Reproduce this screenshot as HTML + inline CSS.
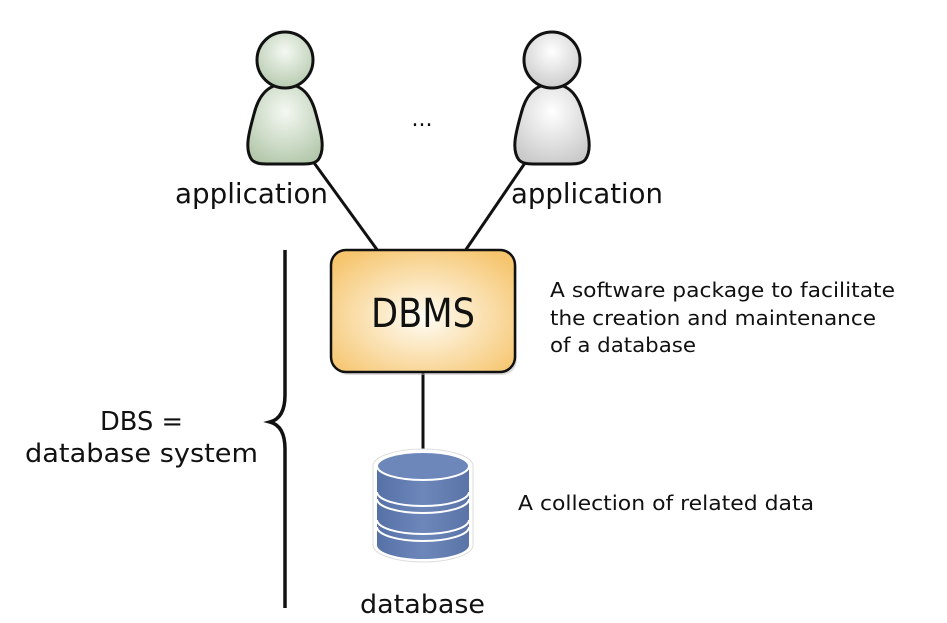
<!DOCTYPE html>
<html><head><meta charset="utf-8"><style>
html,body{margin:0;padding:0;background:#fff;}
svg{display:block;}
text{font-family:"DejaVu Sans","Liberation Sans",sans-serif;fill:#111;}
</style></head><body>
<svg width="947" height="623" viewBox="0 0 947 623" xmlns="http://www.w3.org/2000/svg">
<defs>
<radialGradient id="gg" cx="0.5" cy="0.35" r="0.7"><stop offset="0" stop-color="#f4f8f2"/><stop offset="1" stop-color="#b3c8ab"/></radialGradient>
<radialGradient id="wg" cx="0.5" cy="0.35" r="0.7"><stop offset="0" stop-color="#ffffff"/><stop offset="1" stop-color="#c9c9c9"/></radialGradient>
<radialGradient id="og" cx="0.5" cy="0.55" r="0.65"><stop offset="0" stop-color="#fffdf6"/><stop offset="1" stop-color="#f6c56e"/></radialGradient>
<linearGradient id="bg" x1="0" x2="1"><stop offset="0" stop-color="#5671a6"/><stop offset="0.5" stop-color="#6d87bb"/><stop offset="1" stop-color="#5a74a8"/></linearGradient>
</defs>
<line x1="312" y1="160" x2="378" y2="251" stroke="#111" stroke-width="3"/>
<line x1="527" y1="160" x2="465" y2="251" stroke="#111" stroke-width="3"/>
<line x1="423" y1="372" x2="423" y2="452" stroke="#111" stroke-width="3"/>
<!-- left person -->
<path d="M285 84 C266 84 258 98 254 114 C249 132 244 150 252 160 C256 164 262 164 270 164 L300 164 C308 164 314 164 318 160 C326 150 321 132 316 114 C312 98 304 84 285 84 Z" fill="url(#gg)" stroke="#111" stroke-width="3"/>
<circle cx="285" cy="60" r="28" fill="url(#gg)" stroke="#111" stroke-width="3"/>
<!-- right person -->
<path d="M552 84 C533 84 525 98 521 114 C516 132 511 150 519 160 C523 164 529 164 537 164 L567 164 C575 164 581 164 585 160 C593 150 588 132 583 114 C579 98 571 84 552 84 Z" fill="url(#wg)" stroke="#111" stroke-width="3"/>
<circle cx="552" cy="60" r="28" fill="url(#wg)" stroke="#111" stroke-width="3"/>
<text x="422" y="126" font-size="22" text-anchor="middle">...</text>
<text x="175" y="203" font-size="28" textLength="153" lengthAdjust="spacingAndGlyphs">application</text>
<text x="511" y="203" font-size="28" textLength="152" lengthAdjust="spacingAndGlyphs">application</text>
<rect x="333" y="253" width="184" height="122" rx="15" fill="#bbb" opacity="0.5"/>
<rect x="331" y="250" width="184" height="122" rx="15" fill="url(#og)" stroke="#111" stroke-width="2.5"/>
<text x="423" y="327" font-size="40" text-anchor="middle" textLength="104" lengthAdjust="spacingAndGlyphs">DBMS</text>
<text x="550" y="297" font-size="20" textLength="345" lengthAdjust="spacingAndGlyphs">A software package to facilitate</text>
<text x="550" y="325" font-size="20" textLength="326" lengthAdjust="spacingAndGlyphs">the creation and maintenance</text>
<text x="550" y="352" font-size="20" textLength="146" lengthAdjust="spacingAndGlyphs">of a database</text>
<!-- database -->
<g>
<path d="M373 466 L373 545 A50 17 0 0 0 473 545 L473 466 A50 17 0 0 0 373 466 Z" fill="#fff" stroke="#ddd" stroke-width="1"/>
<path d="M377 466 L377 545 A46 14 0 0 0 469 545 L469 466 Z" fill="url(#bg)"/>
<ellipse cx="423" cy="466" rx="46" ry="14" fill="#6d87bb" stroke="#fff" stroke-width="2"/>
<path d="M377 492 A46 14 0 0 0 469 492" fill="none" stroke="#fff" stroke-width="2"/>
<path d="M377 499 A46 14 0 0 0 469 499" fill="none" stroke="#fff" stroke-width="2"/>
<path d="M377 520 A46 14 0 0 0 469 520" fill="none" stroke="#fff" stroke-width="2"/>
<path d="M377 527 A46 14 0 0 0 469 527" fill="none" stroke="#fff" stroke-width="2"/>
</g>
<text x="518" y="510" font-size="20" textLength="296" lengthAdjust="spacingAndGlyphs">A collection of related data</text>
<text x="360" y="613" font-size="26" textLength="125" lengthAdjust="spacingAndGlyphs">database</text>
<path d="M285 250 L285 395 Q285 418 270 422 Q285 426 285 449 L285 608" fill="none" stroke="#111" stroke-width="3.5"/>
<text x="100" y="430" font-size="26" textLength="83" lengthAdjust="spacingAndGlyphs">DBS =</text>
<text x="25" y="462" font-size="26" textLength="233" lengthAdjust="spacingAndGlyphs">database system</text>
</svg>
</body></html>
